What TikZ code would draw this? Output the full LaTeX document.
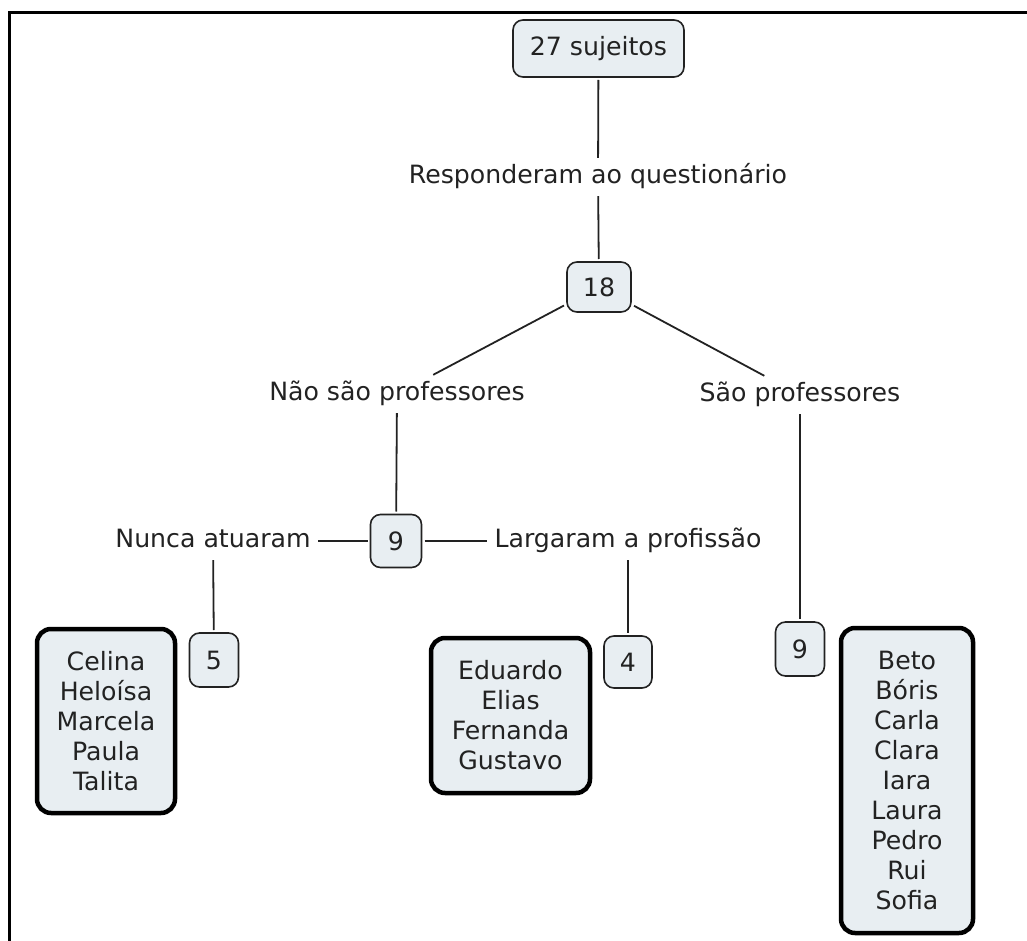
\documentclass[tikz,border=0pt]{standalone}
\usepackage{fontspec}
\setmainfont{DejaVu Sans}
\definecolor{boxfill}{HTML}{E8EEF2}
\definecolor{ink}{HTML}{222222}
\begin{document}
\begin{tikzpicture}[x=1pt,y=-1pt,
  every node/.style={font=\fontsize{25.2}{30}\selectfont, text=ink},
  sbox/.style={draw=ink, line width=1.6pt, fill=boxfill, rounded corners=10pt, align=center, outer sep=3pt, inner sep=0pt},
  bigbox/.style={draw=black, line width=4.5pt, fill=boxfill, rounded corners=14pt, align=center, inner sep=0pt},
  lbl/.style={text height=18.5pt, text depth=5.5pt, inner sep=7pt},
  conn/.style={draw=ink, line width=1.8pt}]
\useasboundingbox (0,0) rectangle (1027,941);
% frame
\draw[line width=3pt, black] (9,941) -- (9,13) -- (1027,13);
% boxes
\node[sbox, minimum width=171pt, minimum height=57pt] (top) at (598.5,48.5) {27 sujeitos};
\node[lbl] (resp) at (598,177) {Responderam ao questionário};
\node[sbox, minimum width=64pt, minimum height=50pt] (n18) at (599,287) {18};
\node[lbl] (nao) at (397,394) {Não são professores};
\node[lbl] (sao) at (800,395) {São professores};
\node[sbox, minimum width=51pt, minimum height=53pt] (n9a) at (396,541) {9};
\node[lbl] (nunca) at (213,541) {Nunca atuaram};
\node[lbl] (larg) at (628,541) {Largaram a profissão};
\node[sbox, minimum width=49pt, minimum height=54pt] (n5) at (214,660) {5};
\node[sbox, minimum width=48pt, minimum height=52pt] (n4) at (628,662) {4};
\node[sbox, minimum width=49pt, minimum height=54pt] (n9b) at (800,649) {9};
\node[bigbox, minimum width=138pt, minimum height=184pt] (celina) at (106,721) {Celina\\Heloísa\\Marcela\\Paula\\Talita};
\node[bigbox, minimum width=159pt, minimum height=155pt] (eduardo) at (510.5,715.5) {Eduardo\\Elias\\Fernanda\\Gustavo};
\node[bigbox, minimum width=132pt, minimum height=305pt] (beto) at (907,780.5) {Beto\\Bóris\\Carla\\Clara\\Iara\\Laura\\Pedro\\Rui\\Sofia};
% connectors
\draw[conn] (top) -- (resp);
\draw[conn] (resp) -- (n18);
\draw[conn] (n18) -- (nao);
\draw[conn] (n18) -- (sao);
\draw[conn] (nao) -- (n9a);
\draw[conn] (n9a) -- (nunca);
\draw[conn] (n9a) -- (larg);
\draw[conn] (nunca) -- (n5);
\draw[conn] (larg) -- (n4);
\draw[conn] (sao) -- (n9b);
\end{tikzpicture}
\end{document}
